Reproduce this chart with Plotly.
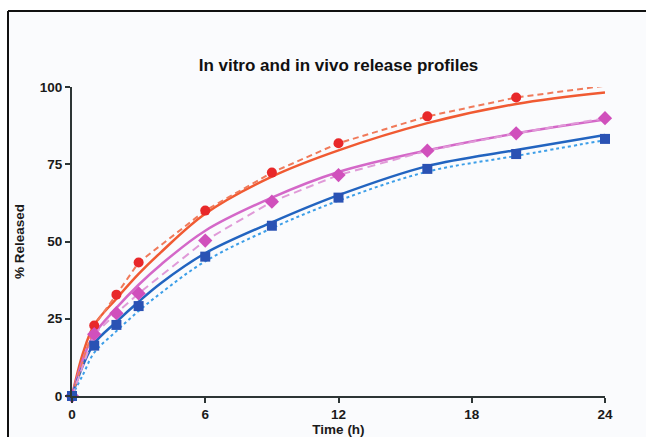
import plotly.graph_objects as go

# ---- data ----
t_obs = [0, 1, 2, 3, 6, 9, 12, 16, 20, 24]
red_obs = [0, 22.8, 32.8, 43.2, 60, 72.3, 81.8, 90.5, 96.6, 100.4]
pink_obs = [0, 20, 26.8, 33.2, 50.3, 62.9, 71.5, 79.4, 85, 89.9]
blue_obs = [0, 16.3, 23, 29.1, 45.1, 55.1, 64.2, 73.5, 78.3, 83.2]

t_fit = [0, 0.5, 1, 2, 3, 4, 6, 9, 12, 16, 20, 24]
red_fit = [0, 14, 23, 31.5, 39.5, 46.5, 59, 71, 79.5, 88.3, 94.5, 98.2]
pink_fit = [0, 12, 20, 28.5, 36, 42.5, 53.5, 64.2, 72.5, 79.5, 85, 89.5]
blue_fit = [0, 10, 17, 24, 30.5, 36.5, 46.2, 56.2, 65, 74.4, 79.6, 84.5]
blue_dot = [0, 7, 14, 21, 27.5, 33.3, 43.6, 54.3, 63.2, 72.6, 77.7, 82.8]

x_ticks = [0, 6, 12, 18, 24]
y_ticks = [0, 25, 50, 75, 100]

fig = go.Figure()

# fitted solid curves
fig.add_trace(go.Scatter(x=t_fit, y=red_fit, mode="lines", line=dict(color="#f05a32", width=2.5, shape="spline"), cliponaxis=False))
fig.add_trace(go.Scatter(x=t_fit, y=pink_fit, mode="lines", line=dict(color="#d468c8", width=2.5, shape="spline"), cliponaxis=False))
fig.add_trace(go.Scatter(x=t_fit, y=blue_fit, mode="lines", line=dict(color="#2264c0", width=2.5, shape="spline"), cliponaxis=False))
fig.add_trace(go.Scatter(x=t_fit, y=blue_dot, mode="lines", line=dict(color="#3c9ee8", width=2, dash="dot", shape="spline"), cliponaxis=False))

# observed with dashed lines
fig.add_trace(go.Scatter(x=t_obs, y=red_obs, mode="lines+markers",
                         line=dict(color="#f07a5a", width=2, dash="6px,4px"),
                         marker=dict(symbol="circle", size=10, color="#e8282a"), cliponaxis=False))
fig.add_trace(go.Scatter(x=t_obs, y=pink_obs, mode="lines+markers",
                         line=dict(color="#e09ad8", width=2, dash="8px,5px"),
                         marker=dict(symbol="diamond", size=11, color="#d050bc"), cliponaxis=False))
fig.add_trace(go.Scatter(x=t_obs, y=blue_obs, mode="markers",
                         marker=dict(symbol="square", size=10, color="#2a52b4"), cliponaxis=False))

axis_font = dict(family="Liberation Sans, Arial, sans-serif", size=13.5, color="#1a1a1a")

W, H = 646, 437
L, T, PW, PH = 72, 87, 533, 309

fx0 = (8 - L) / PW
fx1 = (W + 20 - L) / PW
fy0 = (T + PH - (H + 20)) / PH
fy1 = (T + PH - 11) / PH

fig.update_layout(
    width=W, height=H,
    margin=dict(l=L, r=W - L - PW, t=T, b=H - T - PH, autoexpand=False),
    paper_bgcolor="white",
    plot_bgcolor="rgba(0,0,0,0)",
    showlegend=False,
    hovermode=False,
    title=dict(text="<b>In vitro and in vivo release profiles</b>",
               font=dict(family="Liberation Sans, Arial, sans-serif", size=17, color="#111"),
               x=0.5, xref="paper", xanchor="center", y=1 - 65 / H, yref="container", yanchor="middle"),
    xaxis=dict(range=[0, 24], tickvals=x_ticks, ticktext=[f"<b>{v}</b>" for v in x_ticks],
               showgrid=False, zeroline=False, showline=True, linecolor="#2d3535", linewidth=2,
               ticks="outside", ticklen=5, tickwidth=2, tickcolor="#2d3535",
               tickfont=axis_font, automargin=False,
               title=dict(text="<b>Time (h)</b>", font=axis_font, standoff=0)),
    yaxis=dict(range=[0, 100], tickvals=y_ticks, ticktext=[f"<b>{v}</b>" for v in y_ticks],
               showgrid=False, zeroline=False, showline=True, linecolor="#2d3535", linewidth=2,
               ticks="outside", ticklen=5, tickwidth=2, tickcolor="#2d3535",
               tickfont=axis_font, automargin=False,
               title=dict(text="<b>% Released</b>", font=axis_font, standoff=12)),
    shapes=[
        dict(type="rect", xref="paper", yref="paper", x0=fx0, x1=fx1, y0=fy0, y1=fy1,
             line=dict(width=0), fillcolor="#fafbfd", layer="below"),
        dict(type="line", xref="paper", yref="paper", x0=fx0, x1=fx1, y0=fy1, y1=fy1,
             line=dict(color="#111", width=2), layer="below"),
        dict(type="line", xref="paper", yref="paper", x0=fx0, x1=fx0, y0=fy0, y1=fy1,
             line=dict(color="#111", width=2), layer="below"),
    ],
)

fig.write_html("out.html",
               config={"displayModeBar": False},
               post_script="document.documentElement.style.overflow='hidden';"
                           "document.body.style.margin='0';document.body.style.overflow='hidden';")
